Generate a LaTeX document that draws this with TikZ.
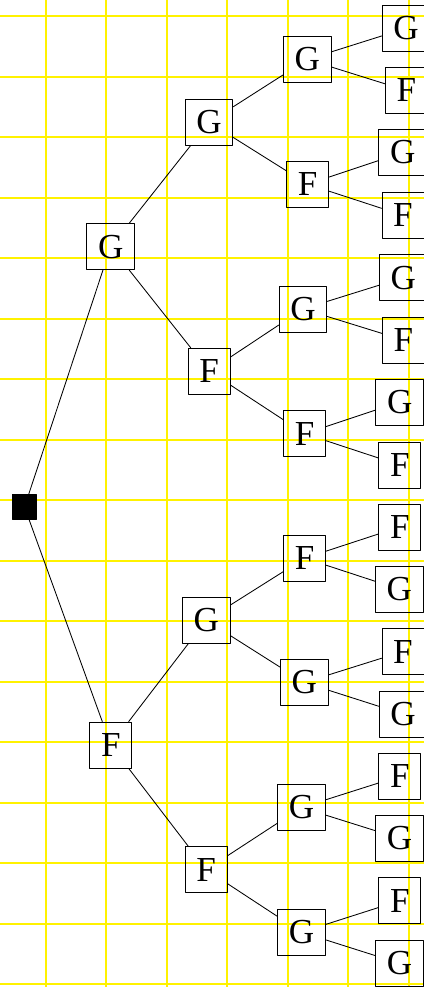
\documentclass[tikz,border=0pt]{standalone}
\usepackage{fontspec}
\setmainfont{Liberation Serif}
\begin{document}
\begin{tikzpicture}
[line join=round, line cap=round,
box/.style={draw, inner xsep=0.185cm, inner ysep=0pt, minimum height=0.76cm,
  font=\fontsize{16.5}{20}\selectfont}]
\useasboundingbox (-0.76,-0.045) rectangle (6.248,16.269);
\clip (-0.76,-0.045) rectangle (6.248,16.269);
\draw[yellow, line width=0.95pt] (-0.76,-0.045) grid (6.248,16.269);
% root
\node[draw, fill=black, inner sep=0pt, minimum size=0.4cm] (n) at (-0.355,7.889) {};
% inner nodes
\foreach \n/\x/\y/\t in {1/1.070/12.191/G, 2/1.071/3.955/F,
  11/2.695/14.248/G, 12/2.698/10.134/F, 21/2.648/6.016/G, 22/2.648/1.894/F,
  111/4.319/15.286/G, 112/4.326/13.224/F, 121/4.248/11.162/G, 122/4.276/9.100/F,
  211/4.276/7.043/F, 212/4.270/4.988/G, 221/4.223/2.922/G, 222/4.223/0.861/G}
\node[box] (n\n) at (\x,\y) {\t};
% leaves
\foreach \n/\x/\y/\t in {1111/5.951/15.801/G, 1112/5.956/14.773/F,
  1121/5.896/13.748/G, 1122/5.901/12.710/F, 1211/5.906/11.679/G, 1212/5.906/10.649/F,
  1221/5.847/9.624/G, 1222/5.848/8.583/F, 2111/5.848/7.558/F, 2112/5.840/6.530/G,
  2121/5.901/5.500/F, 2122/5.901/4.467/G, 2211/5.848/3.438/F, 2212/5.843/2.413/G,
  2221/5.848/1.381/F, 2222/5.843/0.347/G}
\node[box] (n\n) at (\x,\y) {\t};
% edges
\draw (n) -- (n1) (n) -- (n2);
\foreach \p in {1,2,11,12,21,22,111,112,121,122,211,212,221,222}
\draw (n\p) -- (n\p1) (n\p) -- (n\p2);
\end{tikzpicture}
\end{document}
